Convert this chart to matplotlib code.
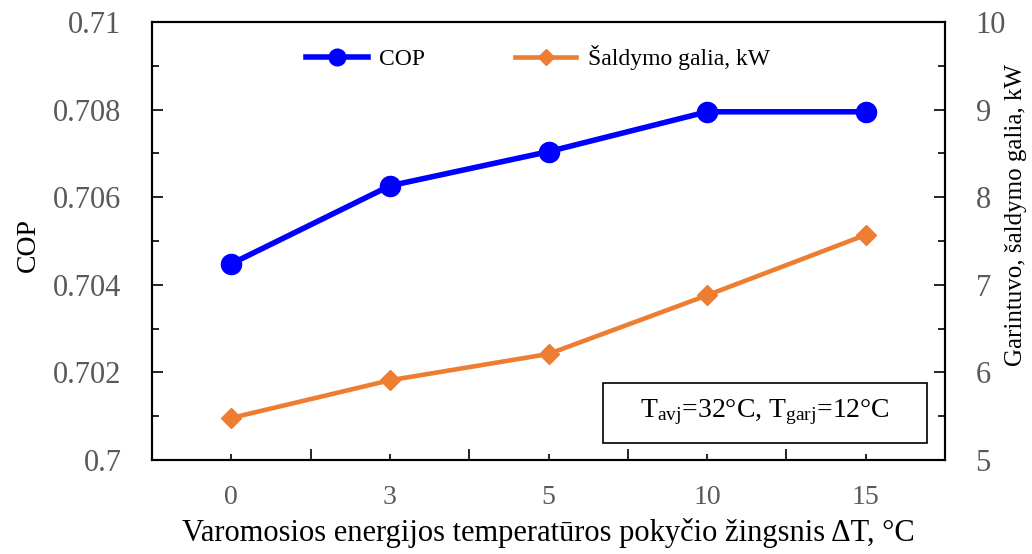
import matplotlib
matplotlib.use("Agg")
import matplotlib.pyplot as plt
from matplotlib.ticker import MultipleLocator, FixedLocator
from matplotlib.patches import Rectangle
from matplotlib.lines import Line2D

categories = ["0", "3", "5", "10", "15"]
cop = [0.70448, 0.70626, 0.70704, 0.70795, 0.70795]
cooling_kw = [5.48, 5.91, 6.21, 6.88, 7.57]

plt.rcParams['font.family'] = ['Liberation Serif', 'DejaVu Serif']
plt.rcParams['mathtext.fontset'] = 'custom'
plt.rcParams['mathtext.rm'] = 'Liberation Serif'
plt.rcParams['mathtext.it'] = 'Liberation Serif'

fig = plt.figure(figsize=(10.32, 5.54), dpi=100)
ax = fig.add_axes([152/1032, 1-460/554, (945-152)/1032, (460-22)/554])
ax2 = ax.twinx()

x = list(range(len(categories)))
ax.plot(x, cop, color='#0000FF', lw=4, marker='o', markersize=14.5, zorder=3)
ax2.plot(x, cooling_kw, color='#ED7D31', lw=3.3, marker='D', markersize=10, zorder=3)

ax.set_xlim(-0.5, len(categories)-0.5)
ax.set_ylim(0.7, 0.71)
ax2.set_ylim(5, 10)

tick_color = '#595959'
ax.set_xticks(x)
ax.set_xticklabels(categories)
ax.xaxis.set_minor_locator(FixedLocator([i + 0.5 for i in range(-1, len(categories))]))
ax.tick_params(axis='x', which='major', direction='in', length=4, width=1.2, pad=18,
               labelsize=20, labelcolor=tick_color)
ax.tick_params(axis='x', which='minor', direction='in', length=8, width=1.2)

ax.yaxis.set_minor_locator(MultipleLocator(0.001))
ax.set_yticks([0.7, 0.702, 0.704, 0.706, 0.708, 0.71])
ax.set_yticklabels(['0.7', '0.702', '0.704', '0.706', '0.708', '0.71'])
ax.tick_params(axis='y', which='major', direction='in', length=8, width=1.2, pad=22,
               labelsize=22, labelcolor=tick_color)
ax.tick_params(axis='y', which='minor', direction='in', length=5, width=1.2)

ax2.yaxis.set_major_locator(MultipleLocator(1))
ax2.yaxis.set_minor_locator(MultipleLocator(0.5))
ax2.tick_params(axis='y', which='major', direction='in', length=8, width=1.2, pad=22,
                labelsize=22, labelcolor=tick_color)
ax2.tick_params(axis='y', which='minor', direction='in', length=5, width=1.2)

for a in (ax, ax2):
    for s in a.spines.values():
        s.set_linewidth(1.5)
        s.set_color('black')

fig.text(28/1032, 1-245/554, 'COP', rotation=90, ha='center', va='center', fontsize=20)
fig.text(1016/1032, 1-215/554, 'Garintuvo, šaldymo galia, kW', rotation=90,
         ha='center', va='center', fontsize=18)
ax.set_xlabel('Varomosios energijos temperatūros pokyčio žingsnis ΔT, °C', fontsize=22, labelpad=6)

handles = [
    Line2D([], [], color='#0000FF', lw=4, marker='o', markersize=12),
    Line2D([], [], color='#ED7D31', lw=3.3, marker='D', markersize=8),
]
ax.legend(handles, ['COP', 'Šaldymo galia, kW'], loc='upper center', ncol=2, frameon=False,
          fontsize=17, bbox_to_anchor=(0.487, 0.995), handlelength=2.6, columnspacing=3.8,
          handletextpad=0.5)

# annotation box
box = Rectangle((603/1032, 1-443/554), (927-603)/1032, (443-383)/554, transform=fig.transFigure,
                fill=True, facecolor='white', edgecolor='black', lw=1.2, zorder=5)
fig.patches.append(box)
fig.text((603+927)/2/1032, 1-412/554, r'T$_{\mathrm{avj}}$=32°C, T$_{\mathrm{garj}}$=12°C',
         ha='center', va='center', fontsize=20, zorder=6)

fig.savefig('out.png', dpi=100)
